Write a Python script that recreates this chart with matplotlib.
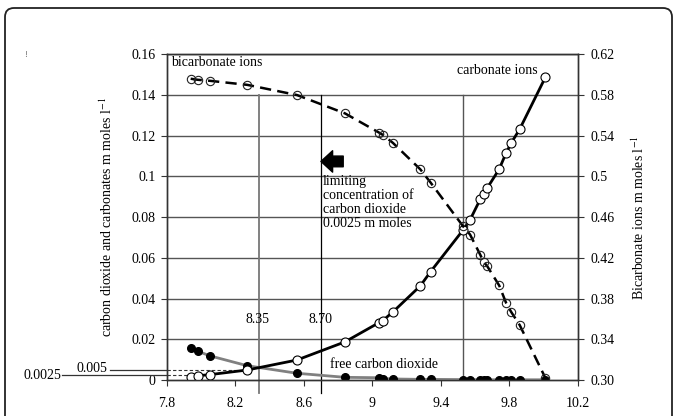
import matplotlib
matplotlib.use("Agg")
from matplotlib import pyplot as plt
from matplotlib.patches import FancyBboxPatch
import numpy as np

plt.rcParams['font.family'] = ['Liberation Serif', 'DejaVu Serif']
plt.rcParams['mathtext.fontset'] = 'stix'

# pH values shared by the three series
ph = [7.94, 7.98, 8.05, 8.27, 8.56, 8.84, 9.04, 9.06, 9.12, 9.28, 9.34,
      9.53, 9.57, 9.63, 9.65, 9.67, 9.74, 9.78, 9.81, 9.86, 10.01]

# carbonate ions (left axis)
carbonate = [0.0017, 0.0022, 0.0027, 0.005, 0.0099, 0.0188, 0.0283, 0.0292,
             0.0335, 0.0463, 0.0533, 0.0738, 0.0787, 0.0889, 0.0915, 0.0943,
             0.1036, 0.1115, 0.1164, 0.1233, 0.1488]

# free carbon dioxide (left axis)
free_co2 = [0.0157, 0.0143, 0.012, 0.0071, 0.0034, 0.0014, 0.0012, 0.0008,
            0.0006, 0.0004, 0.0004, 0.0003, 0.0003, 0.0002, 0.0002, 0.0002,
            0.0002, 0.0002, 0.0002, 0.0002, 0.0002]

# bicarbonate ions (right axis)
bicarbonate = [0.596, 0.595, 0.594, 0.590, 0.580, 0.562, 0.543, 0.541, 0.533,
               0.507, 0.494, 0.451, 0.443, 0.423, 0.416, 0.412, 0.393, 0.376,
               0.367, 0.354, 0.302]

left_ticks = [0, 0.02, 0.04, 0.06, 0.08, 0.1, 0.12, 0.14, 0.16]
left_labels = ['0', '0.02', '0.04', '0.06', '0.08', '0.1', '0.12', '0.14', '0.16']
right_ticks = [0.30, 0.34, 0.38, 0.42, 0.46, 0.50, 0.54, 0.58, 0.62]
right_labels = ['0.30', '0.34', '0.38', '0.42', '0.46', '0.5', '0.54', '0.58', '0.62']
x_ticks = [7.8, 8.2, 8.6, 9.0, 9.4, 9.8, 10.2]
x_labels = ['7.8', '8.2', '8.6', '9', '9.4', '9.8', '10.2']

marked_ph = [8.34, 8.70, 9.53]
ref_levels = [0.005, 0.0025]

fig = plt.figure(figsize=(6.77, 4.16), dpi=100)
ax = fig.add_axes([0.2462, 0.0861, 0.6076, 0.7834])

# figure border (rounded, runs off the bottom)
border = FancyBboxPatch((0.05, -0.5), 6.67, 4.58,
                        boxstyle='round,pad=0,rounding_size=0.09',
                        transform=fig.dpi_scale_trans, fill=False,
                        edgecolor='#222222', linewidth=1.3)
fig.add_artist(border)
fig.text(25.5 / 677, 1 - 55 / 416, '!', fontsize=6, color='#555555',
         ha='center', va='center')

ax.set_xlim(7.8, 10.2)
ax.set_ylim(0, 0.16)
ax.set_xticks(x_ticks)
ax.set_xticklabels(x_labels)
ax.set_yticks(left_ticks)
ax.set_yticklabels(left_labels)
ax.tick_params(labelsize=10, length=4, width=0.8, pad=4, color='#333333')
ax.tick_params(axis='x', pad=8)

# horizontal grid
for v in left_ticks[1:]:
    ax.axhline(v, color='#555555', linewidth=1.0, zorder=1)

for s in ax.spines.values():
    s.set_color('#333333')
    s.set_linewidth(1.0)

# vertical marker lines
ax.plot([marked_ph[0], marked_ph[0]], [-0.0065, 0.14], color='#777777',
        linewidth=1.3, clip_on=False, zorder=1)
ax.plot([marked_ph[1], marked_ph[1]], [-0.0065, 0.14], color='black',
        linewidth=0.9, clip_on=False, zorder=1)
ax.plot([marked_ph[2], marked_ph[2]], [0, 0.14], color='#555555',
        linewidth=1.0, zorder=1)
ax.text(8.33, 0.030, '8.35', fontsize=10, ha='center', va='center')
ax.text(8.70, 0.030, '8.70', fontsize=10, ha='center', va='center')

# reference levels 0.005 and 0.0025
ax.plot([7.47, 7.8], [ref_levels[0], ref_levels[0]], color='#333333',
        linewidth=0.9, clip_on=False)
ax.plot([7.8, 8.3], [ref_levels[0], ref_levels[0]], color='#333333',
        linewidth=0.8, linestyle=(0, (3, 2)))
ax.text(7.455, ref_levels[0] + 0.0005, '0.005', fontsize=10, ha='right',
        va='center')
ax.plot([7.19, 7.8], [ref_levels[1], ref_levels[1]], color='#333333',
        linewidth=0.9, clip_on=False)
ax.plot([7.8, 7.95], [ref_levels[1], ref_levels[1]], color='#333333',
        linewidth=0.8, linestyle=(0, (3, 2)))
ax.text(7.185, ref_levels[1], '0.0025', fontsize=10, ha='right', va='center')

# free CO2
ax.plot(ph, free_co2, color='#808080', linewidth=2, zorder=3)
ax.plot(ph, free_co2, 'o', color='black', markersize=5.5, zorder=4)

# carbonate ions
ax.plot(ph, carbonate, color='black', linewidth=2, marker='o', markersize=6.5,
        markerfacecolor='white', markeredgecolor='black',
        markeredgewidth=0.8, zorder=5)

ax.set_ylabel('carbon dioxide and carbonates m moles l$^{-1}$', fontsize=10,
              labelpad=12)

# bicarbonate on the right axis
ax2 = ax.twinx()
ax2.set_ylim(0.30, 0.62)
ax2.set_yticks(right_ticks)
ax2.set_yticklabels(right_labels)
ax2.tick_params(labelsize=10, length=4, width=0.8, pad=5, color='#333333')
for s in ax2.spines.values():
    s.set_color('#333333')
    s.set_linewidth(1.0)
ax2.plot(ph, bicarbonate, color='black', linewidth=1.8, dashes=(4.5, 2.5),
         marker='o', markersize=6, markerfacecolor='none',
         markeredgecolor='#222222', markeredgewidth=0.8)
ax2.set_ylabel('Bicarbonate ions m moles l$^{-1}$', fontsize=10, labelpad=11)

# annotations
ax.text(7.825, 0.1562, 'bicarbonate ions', fontsize=10, ha='left', va='center')
ax.text(9.965, 0.1518, 'carbonate ions', fontsize=10, ha='right', va='center')
ax.text(8.75, 0.0078, 'free carbon dioxide', fontsize=10, ha='left',
        va='center')
ax.text(8.71, 0.1008, 'limiting\nconcentration of\ncarbon dioxide\n0.0025 m moles',
        fontsize=10, ha='left', va='top', linespacing=1.12)
ax.annotate('', xy=(8.70, 0.1074), xytext=(8.83, 0.1074),
            arrowprops=dict(arrowstyle='simple,head_width=1.1,head_length=0.6,tail_width=0.55',
                            color='black', shrinkA=0, shrinkB=0,
                            mutation_scale=14))

fig.savefig('out.png', dpi=100)
